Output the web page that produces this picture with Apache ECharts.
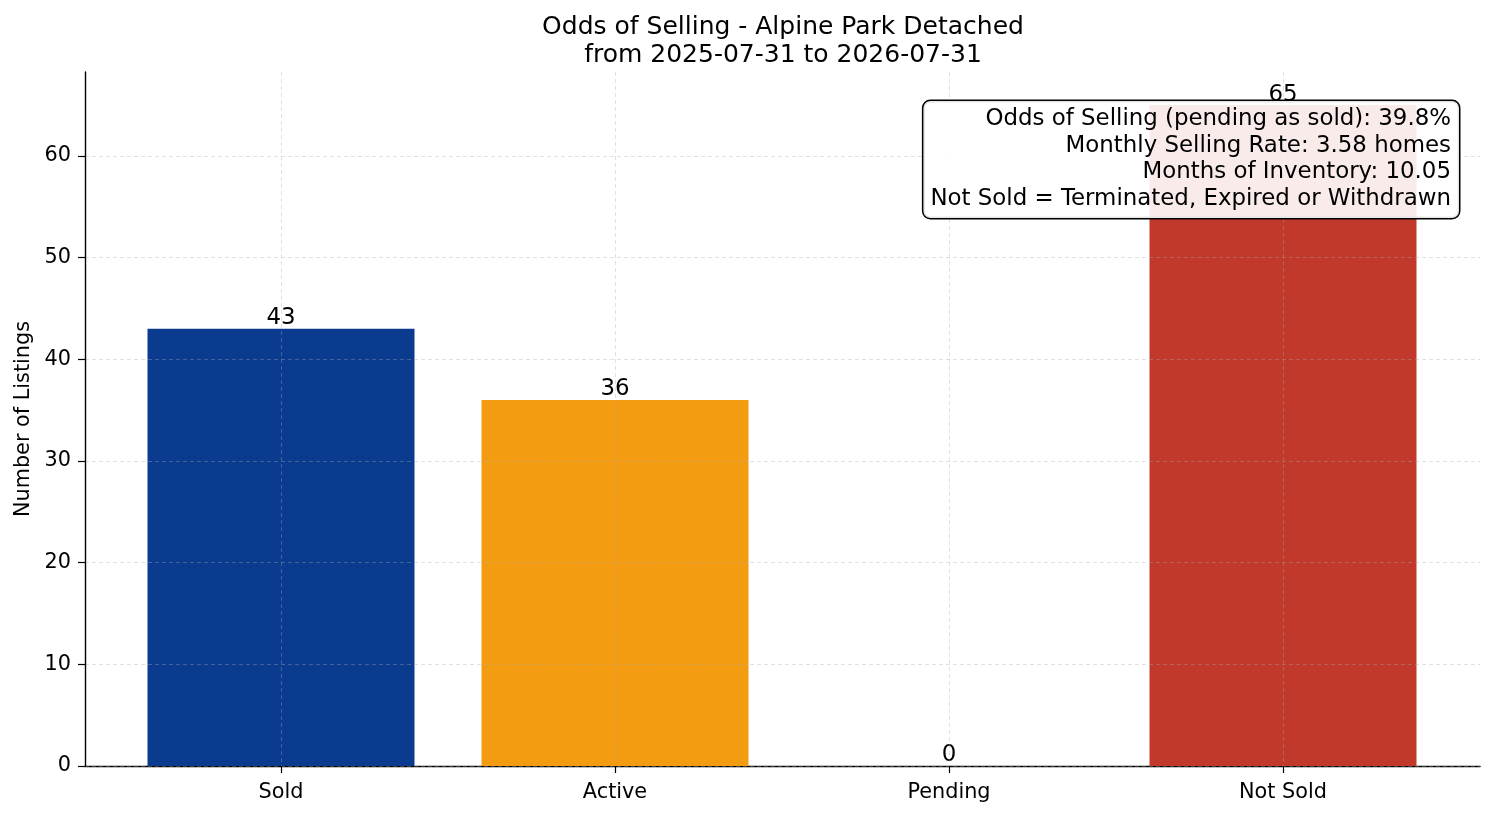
<!DOCTYPE html>
<html>
<head>
<meta charset="utf-8" />
<title>Odds of Selling</title>
<script src="https://cdn.jsdelivr.net/npm/echarts@6/dist/echarts.min.js"></script>
<style>
  html, body { margin: 0; padding: 0; background: #fff; }
  #chart { width: 1494px; height: 816px; }
</style>
</head>
<body>
<div id="chart"></div>
<script>
// data
var categories = ['Sold', 'Active', 'Pending', 'Not Sold'];
var listingCounts = [43, 36, 0, 65];
var yTicks = [0, 10, 20, 30, 40, 50, 60];
var statLines = [
  'Odds of Selling (pending as sold): 39.8%',
  'Monthly Selling Rate: 3.58 homes',
  'Months of Inventory: 10.05',
  'Not Sold = Terminated, Expired or Withdrawn'
];
var titleText = 'Odds of Selling - Alpine Park Detached';
var subText = 'from 2025-07-31 to 2026-07-31';

var barColors = ['#0b3b8f', '#f39c12', '#27ae60', '#c0392b'];
var font = 'DejaVu Sans';
var yMax = 68.25; // 65 + 5% margin, like matplotlib
var gridLine = { show: true, lineStyle: { color: 'rgba(170,170,170,0.45)', width: 0.8, type: [4, 3] } };

var chart = echarts.init(document.getElementById('chart'));

var option = {
  animation: false,
  title: {
    text: titleText + '\n' + subText,
    left: 778,
    top: 8,
    textAlign: 'center',
    textStyle: { fontFamily: font, fontSize: 25, fontWeight: 'normal', color: '#000', lineHeight: 28 }
  },
  grid: [
    // full axes box (spines, y ticks, horizontal grid)
    { left: 85, right: 14, top: 72, bottom: 50, outerBoundsMode: 'none', containLabel: false },
    // category band, centers at -0.59..3.59 data range
    { left: 281, right: 211, top: 72, bottom: 50, outerBoundsMode: 'none', containLabel: false }
  ],
  xAxis: [
    {
      type: 'value', gridIndex: 0, min: 0, max: 1,
      axisLine: { show: true, lineStyle: { color: '#000', width: 1.4 } },
      axisTick: { show: false }, axisLabel: { show: false }, splitLine: { show: false }
    },
    {
      type: 'category', gridIndex: 1, data: categories, boundaryGap: false, z: 5,
      axisLine: { show: false },
      axisTick: { show: true, length: 7, inside: false, alignWithLabel: true, lineStyle: { color: '#000', width: 1.2 } },
      axisLabel: { interval: 0, margin: 16, fontFamily: font, fontSize: 20.8, color: '#000' },
      splitLine: gridLine
    }
  ],
  yAxis: [
    {
      type: 'value', gridIndex: 0, min: 0, max: yMax, interval: 10, z: 5,
      name: 'Number of Listings', nameLocation: 'middle', nameGap: 49,
      nameTextStyle: { fontFamily: font, fontSize: 20.8, color: '#000' },
      axisLine: { show: true, lineStyle: { color: '#000', width: 1.4 } },
      axisTick: { show: true, length: 7, customValues: yTicks, lineStyle: { color: '#000', width: 1.2 } },
      axisLabel: {
        margin: 14, fontFamily: font, fontSize: 20.8, color: '#000',
        customValues: yTicks
      },
      splitLine: gridLine
    },
    {
      type: 'value', gridIndex: 1, min: 0, max: yMax, show: false,
      splitLine: { show: false }
    }
  ],
  series: [{
    type: 'bar',
    xAxisIndex: 1,
    yAxisIndex: 1,
    barWidth: 267,
    clip: false,
    data: listingCounts.map(function (v, i) {
      return { value: v, itemStyle: { color: barColors[i] } };
    }),
    label: {
      show: true, position: 'top', distance: -1,
      fontFamily: font, fontSize: 22.9, color: '#000'
    }
  }],
  graphic: [{
    type: 'text',
    z: 100,
    x: 1459,
    y: 101,
    style: {
      text: statLines.join('\n'),
      align: 'right',
      verticalAlign: 'top',
      fontFamily: font,
      fontSize: 22.9,
      lineHeight: 26.5,
      fill: '#000',
      backgroundColor: 'rgba(255,255,255,0.9)',
      borderColor: '#000',
      borderWidth: 1.5,
      borderRadius: 7,
      padding: [5, 8, 6, 7]
    }
  }]
};

chart.setOption(option);
</script>
</body>
</html>
